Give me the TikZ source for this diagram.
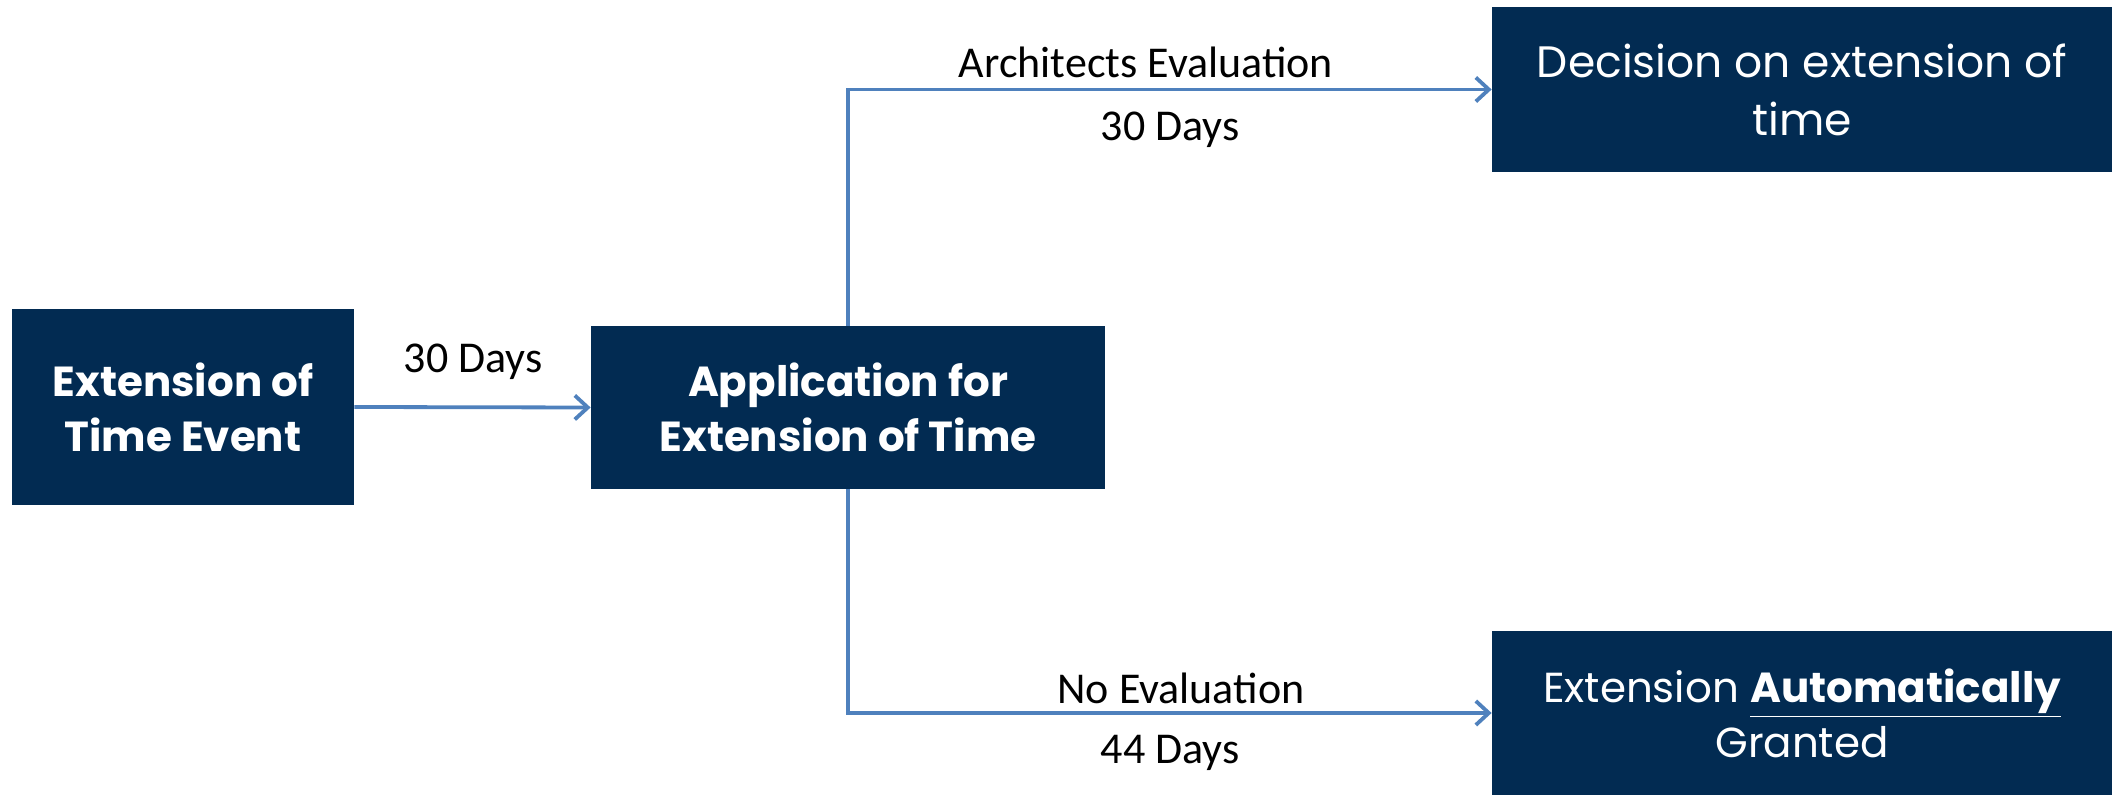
\documentclass[tikz,border=0pt]{standalone}
\usepackage{fontspec}
\setmainfont{Carlito}
\newfontfamily\boxfont{Poppins}
\usetikzlibrary{arrows.meta}
\definecolor{navy}{RGB}{2,43,82}
\definecolor{flow}{RGB}{79,129,189}
\tikzset{
  stepbox/.style={rectangle, fill=navy, text=white, inner sep=0pt, align=center,
    font=\boxfont\fontsize{21}{27.5}\selectfont},
  boldbox/.style={stepbox, font=\boxfont\bfseries\fontsize{21}{27.5}\selectfont},
  bigbox/.style={stepbox, font=\boxfont\fontsize{22}{29}\selectfont},
  flowline/.style={draw=flow, line width=1.9pt, -{Straight Barb[length=6.5pt,width=12pt,line width=1.9pt]}},
  lbl/.style={font=\fontsize{22}{26}\selectfont, text=black, inner sep=0pt}
}
\begin{document}
\begin{tikzpicture}[x=0.5pt, y=-0.5pt]
  \useasboundingbox (0,0) rectangle (2119,795);

  % process boxes
  \node[boldbox, minimum width=171pt, minimum height=98pt] (event) at (183,407)
    {Extension of\\Time Event};
  \node[boldbox, minimum width=257pt, minimum height=81.5pt] (apply) at (848,407.5)
    {Application for\\Extension of Time};
  \node[bigbox, minimum width=310pt, minimum height=82.5pt] (decide) at (1802,89.5)
    {Decision on extension of\\time};
  \node[stepbox, minimum width=310pt, minimum height=82pt] (auto) at (1802,713)
    {Extension \textbf{\underline{Automatically}}\\Granted};

  % connectors
  \draw[flowline] (event.east) -- (apply.west);
  \draw[flowline] (apply.north) |- (decide.west);
  \draw[flowline] (apply.south) |- (auto.west);

  % connector labels
  \node[lbl] (l1) at (473,362) {30 Days};
  \node[lbl] (l2) at (1146,62) {Architects Evaluation};
  \node[lbl] (l3) at (1170,130) {30 Days};
  \node[lbl] (l4) at (1181,688) {No Evaluation};
  \node[lbl] (l5) at (1170,753) {44 Days};
\end{tikzpicture}
\end{document}
